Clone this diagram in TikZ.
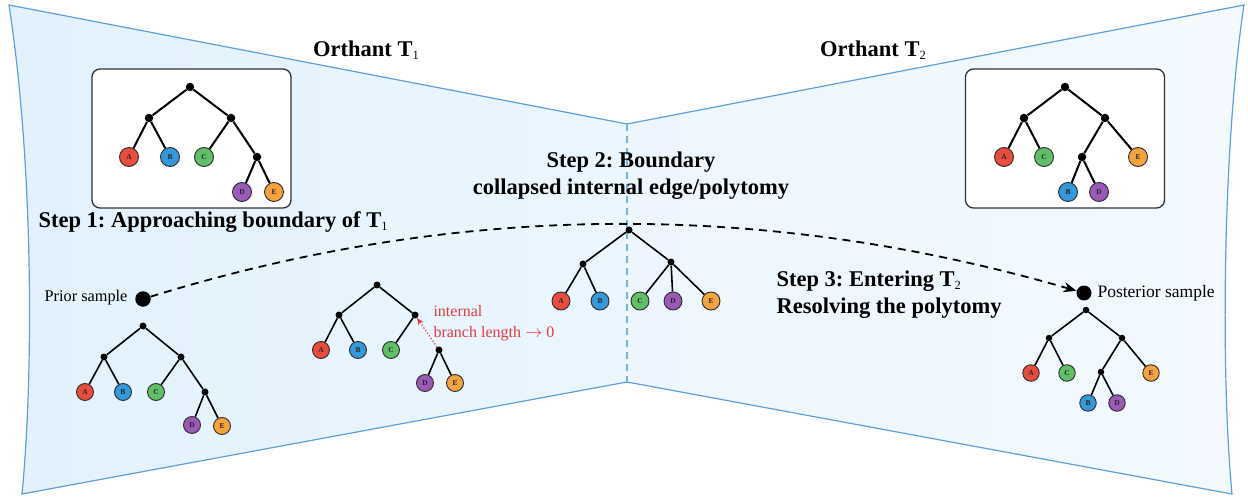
\documentclass[tikz,border=0pt]{standalone}
\usepackage{fontspec}
\setmainfont{Liberation Serif}
\usetikzlibrary{arrows.meta}
\frenchspacing
\newcommand{\orthsub}[1]{\raisebox{-3pt}{\mdseries\fontsize{12.5}{12.5}\selectfont #1}}
\definecolor{edgeblue}{RGB}{96,158,216}
\definecolor{midblue}{RGB}{120,176,224}
\definecolor{fillLa}{RGB}{226,241,253}
\definecolor{fillLb}{RGB}{235,246,254}
\definecolor{fillRa}{RGB}{237,246,254}
\definecolor{fillRb}{RGB}{243,249,255}
\definecolor{cA}{RGB}{231,76,60}
\definecolor{cB}{RGB}{52,152,219}
\definecolor{cC}{RGB}{96,192,104}
\definecolor{cD}{RGB}{155,89,182}
\definecolor{cE}{RGB}{245,163,60}
\definecolor{leafline}{RGB}{45,45,45}
\definecolor{redtxt}{RGB}{226,60,60}
\definecolor{boxline}{RGB}{50,50,50}
\begin{document}
\begin{tikzpicture}[x=1pt,y=-1pt,
  lsize/.style={minimum size=18pt},
  dsize/.style={minimum size=7pt},
  leaf/.style={circle,draw=leafline,line width=0.9pt,inner sep=0pt,lsize,
    font=\bfseries\fontsize{7.5}{8}\selectfont,text=black!85},
  la/.style={leaf,fill=cA}, lb/.style={leaf,fill=cB}, lc/.style={leaf,fill=cC},
  ld/.style={leaf,fill=cD}, le/.style={leaf,fill=cE},
  idot/.style={circle,fill=black,inner sep=0pt,dsize},
  branch/.style={draw=black,line width=1.6pt},
  treebox/.style={draw=boxline,line width=1.3pt,rounded corners=8pt,fill=white,
    minimum width=199pt,minimum height=139pt},
  title/.style={font=\bfseries\fontsize{22.5}{27}\selectfont},
  plain/.style={font=\fontsize{16.3}{20}\selectfont},
  redlabel/.style={font=\fontsize{16}{20.5}\selectfont,text=redtxt},
  sampledot/.style={circle,fill=black,inner sep=0pt,minimum size=15.5pt},
  walk/.style={line width=1.8pt,dash pattern=on 8pt off 6pt},
  orthedge/.style={draw=edgeblue,line width=1.2pt,line join=miter},
]
\useasboundingbox (0,0) rectangle (1248,497);

% orthant regions
\path[left color=fillLa,right color=fillLb] (9,5) -- (627,124) -- (627,382) -- (22,494)
  .. controls (34,370) and (33,160) .. (9,5) -- cycle;
\path[left color=fillRa,right color=fillRb] (627,124) -- (1244,5)
  .. controls (1222,150) and (1221,380) .. (1232,494) -- (627,382) -- cycle;
\draw[orthedge] (627,124) -- (9,5) .. controls (33,160) and (34,370) .. (22,494) -- (627,382);
\draw[orthedge] (627,124) -- (1244,5) .. controls (1222,150) and (1221,380) .. (1232,494) -- (627,382);
\draw[midblue,line width=1.6pt,dash pattern=on 7pt off 5pt] (627,124) -- (627,382);

% titles
\node[title] (o1) at (366,50) {Orthant T\orthsub{1}};
\node[title] (o2) at (873,50) {Orthant T\orthsub{2}};
\node[title,anchor=west] (s1) at (35,222) {Step 1: Approaching boundary of T\orthsub{1}};
\node[title,align=center] (s2) at (631,176) {Step 2: Boundary\\collapsed internal edge/polytomy};
\node[title,align=left,anchor=west] (s3) at (773,295) {Step 3: Entering T\orthsub{2}\\Resolving the polytomy};

% box tree T1
\node[treebox] (box1) at (191.5,138.5) {};
\begin{scope}[dsize/.style={minimum size=8.5pt},lsize/.style={minimum size=19pt},branch/.style={draw=black,line width=2pt}]
\node[idot] (r1) at (190,87) {};
\node[idot] (l1) at (149,118) {};
\node[idot] (q1) at (231,118) {};
\node[la] (a1) at (129,157) {A};
\node[lb] (b1) at (170,157) {B};
\node[lc] (c1) at (204,157) {C};
\node[idot] (x1) at (257,157) {};
\node[ld] (d1) at (242,192) {D};
\node[le] (e1) at (274,192) {E};
\draw[branch] (r1) -- (l1); \draw[branch] (r1) -- (q1);
\draw[branch] (l1) -- (a1); \draw[branch] (l1) -- (b1);
\draw[branch] (q1) -- (c1); \draw[branch] (q1) -- (x1);
\draw[branch] (x1) -- (d1); \draw[branch] (x1) -- (e1);
\end{scope}

% box tree T2
\node[treebox] (box2) at (1065,138.5) {};
\begin{scope}[dsize/.style={minimum size=8.5pt},lsize/.style={minimum size=19pt},branch/.style={draw=black,line width=2pt}]
\node[idot] (r2) at (1065,87) {};
\node[idot] (l2) at (1024,118) {};
\node[idot] (q2) at (1105,118) {};
\node[la] (a2) at (1004,157) {A};
\node[lc] (c2) at (1044,157) {C};
\node[idot] (x2) at (1082,157) {};
\node[le] (e2) at (1138,157) {E};
\node[lb] (b2) at (1068,192) {B};
\node[ld] (d2) at (1099,192) {D};
\draw[branch] (r2) -- (l2); \draw[branch] (r2) -- (q2);
\draw[branch] (l2) -- (a2); \draw[branch] (l2) -- (c2);
\draw[branch] (q2) -- (x2); \draw[branch] (q2) -- (e2);
\draw[branch] (x2) -- (b2); \draw[branch] (x2) -- (d2);
\end{scope}

% prior sample tree
\node[sampledot] (prior) at (143,299) {};
\node[plain,anchor=east] (priorlab) at (131,298) {Prior sample};
\begin{scope}[lsize/.style={minimum size=17pt}]
\node[idot] (r3) at (143,326) {};
\node[idot] (l3) at (104,357) {};
\node[idot] (q3) at (181,357) {};
\node[la] (a3) at (85,392) {A};
\node[lb] (b3) at (123,392) {B};
\node[lc] (c3) at (156,392) {C};
\node[idot] (x3) at (205,392) {};
\node[ld] (d3) at (192,425) {D};
\node[le] (e3) at (222,426) {E};
\draw[branch] (r3) -- (l3); \draw[branch] (r3) -- (q3);
\draw[branch] (l3) -- (a3); \draw[branch] (l3) -- (b3);
\draw[branch] (q3) -- (c3); \draw[branch] (q3) -- (x3);
\draw[branch] (x3) -- (d3); \draw[branch] (x3) -- (e3);
\end{scope}

% approaching tree
\begin{scope}[lsize/.style={minimum size=17pt}]
\node[idot] (r4) at (377,285) {};
\node[idot] (l4) at (339,315) {};
\node[idot] (q4) at (415,315) {};
\node[la] (a4) at (321,350) {A};
\node[lb] (b4) at (358,350) {B};
\node[lc] (c4) at (391,350) {C};
\node[idot] (x4) at (439,350) {};
\node[ld] (d4) at (425,383) {D};
\node[le] (e4) at (455,383) {E};
\draw[branch] (r4) -- (l4); \draw[branch] (r4) -- (q4);
\draw[branch] (l4) -- (a4); \draw[branch] (l4) -- (b4);
\draw[branch] (q4) -- (c4);
\draw[branch] (x4) -- (d4); \draw[branch] (x4) -- (e4);
\draw[redtxt,line width=1.2pt,dotted,-{Stealth[length=7pt,width=6pt]}] (x4) -- (q4);
\end{scope}
\node[redlabel,align=left,anchor=west] (redlab) at (430,323) {internal\\branch length $\rightarrow$ 0};

% boundary tree
\begin{scope}[lsize/.style={minimum size=18pt}]
\node[idot] (r5) at (629,230) {};
\node[idot] (l5) at (583,264) {};
\node[idot] (q5) at (671,262) {};
\node[la] (a5) at (561,301) {A};
\node[lb] (b5) at (600,301) {B};
\node[lc] (c5) at (640,301) {C};
\node[ld] (d5) at (673,301) {D};
\node[le] (e5) at (711,301) {E};
\draw[branch] (r5) -- (l5); \draw[branch] (r5) -- (q5);
\draw[branch] (l5) -- (a5); \draw[branch] (l5) -- (b5);
\draw[branch] (q5) -- (c5); \draw[branch] (q5) -- (d5); \draw[branch] (q5) -- (e5);
\end{scope}

% posterior sample tree
\node[sampledot,minimum size=15pt] (post) at (1084,293) {};
\node[font=\fontsize{17.5}{20}\selectfont,anchor=west] (postlab) at (1094,293) {Posterior sample};
\begin{scope}[lsize/.style={minimum size=16.5pt},dsize/.style={minimum size=6.5pt}]
\node[idot] (r6) at (1086,310) {};
\node[idot] (l6) at (1049,338) {};
\node[idot] (q6) at (1122,338) {};
\node[la] (a6) at (1031,373) {A};
\node[lc] (c6) at (1067,373) {C};
\node[idot] (x6) at (1101,372) {};
\node[le] (e6) at (1151,373) {E};
\node[lb] (b6) at (1088,403) {B};
\node[ld] (d6) at (1117,403) {D};
\draw[branch] (r6) -- (l6); \draw[branch] (r6) -- (q6);
\draw[branch] (l6) -- (a6); \draw[branch] (l6) -- (c6);
\draw[branch] (q6) -- (x6); \draw[branch] (q6) -- (e6);
\draw[branch] (x6) -- (b6); \draw[branch] (x6) -- (d6);
\end{scope}

% sampling walk
\draw[walk,-{Stealth[length=13pt,width=10pt]}] (prior) .. controls (457,202) and (763,200) .. (post);
\end{tikzpicture}
\end{document}
